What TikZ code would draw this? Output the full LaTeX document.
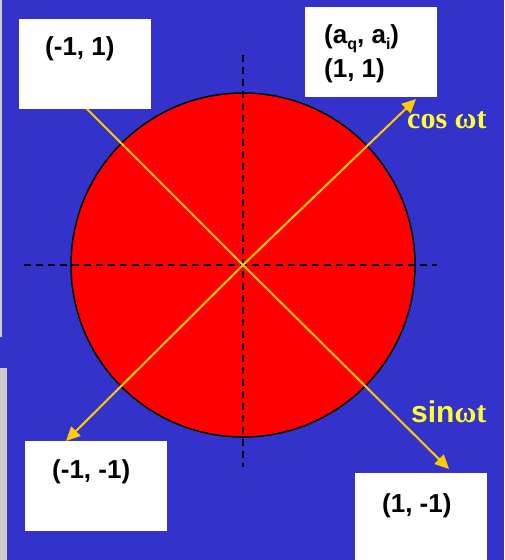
\documentclass[tikz,border=0pt]{standalone}
\usepackage{fontspec}
\setmainfont{Liberation Sans}
\newfontfamily\serifrm{Liberation Serif}
\usepackage{tikz}
\usetikzlibrary{arrows.meta,positioning,calc}
\definecolor{slideblue}{HTML}{3333CC}
\definecolor{arrowgold}{HTML}{FFCC00}
\definecolor{labelyellow}{HTML}{FFFF33}
\definecolor{stripgray}{HTML}{CCCCCC}
\tikzset{
  pointbox/.style={fill=white,minimum width=132pt,minimum height=90pt,inner sep=0pt,anchor=north west},
  pointlabel/.style={font=\fontsize{26}{34}\selectfont\bfseries,anchor=base west,inner sep=0pt},
  phasearrow/.style={-{Triangle[length=14pt,width=13pt]},draw=arrowgold,line width=2pt},
  phaseline/.style={draw=arrowgold,line width=2pt},
  axisline/.style={draw=black,line width=2pt,dash pattern=on 7pt off 5pt},
  phaselabel/.style={text=labelyellow,font=\fontsize{30}{36}\selectfont\bfseries,anchor=base west,inner sep=0pt}
}
\newcommand{\subidx}[1]{\raisebox{-6pt}{\fontsize{16}{16}\selectfont #1}}

\begin{document}
\begin{tikzpicture}[x=1pt,y=-1pt]
  \useasboundingbox (0,0) rectangle (504,560);
  \fill[slideblue] (0,0) rectangle (504,560);
  \fill[stripgray] (0,0) rectangle (1.5,337);
  \fill[stripgray] (0,368) rectangle (7,560);

  % constellation disc and axes
  \node[circle,draw=black,line width=1.5pt,fill=red,minimum size=344pt,inner sep=0pt] (disc) at (243,265) {};
  \coordinate (xleft) at (24,265);
  \coordinate (xright) at (437,265);
  \coordinate (ytop) at (243,55);
  \coordinate (ybottom) at (243,467);
  \draw[axisline] (xleft) -- (xright);
  \draw[axisline] (ytop) -- (ybottom);

  % phase vectors
  \coordinate (ne) at (416,99);
  \coordinate (nw) at (82,104);
  \coordinate (sw) at (66,441);
  \coordinate (se) at (449,469);
  \draw[phasearrow] (disc.center) -- (ne);
  \draw[phaseline] (disc.center) -- (nw);
  \draw[phasearrow] (disc.center) -- (sw);
  \draw[phasearrow] (disc.center) -- (se);

  % symbol boxes
  \node[pointbox] (boxnw) at (19,19) {};
  \node[pointbox] (boxne) at (305,7) {};
  \node[pointbox,minimum width=142pt] (boxsw) at (25,441) {};
  \node[pointbox,minimum height=95pt] (boxse) at (355,473) {};

  \node[pointlabel] (labnw) at (45,55) {(-1, 1)};
  \node[pointlabel] (labaq) at (324,43) {(a\subidx{q}, a\subidx{i})};
  \node[pointlabel] (labne) at (324,77) {(1, 1)};
  \node[pointlabel] (labsw) at (52,478) {(-1, -1)};
  \node[pointlabel] (labse) at (382,512) {(1, -1)};

  \node[phaselabel] (cosw) at (407,128) {\serifrm cos ωt};
  \node[phaselabel] (sinw) at (411,422) {sin{\serifrm ωt}};
\end{tikzpicture}
\end{document}
